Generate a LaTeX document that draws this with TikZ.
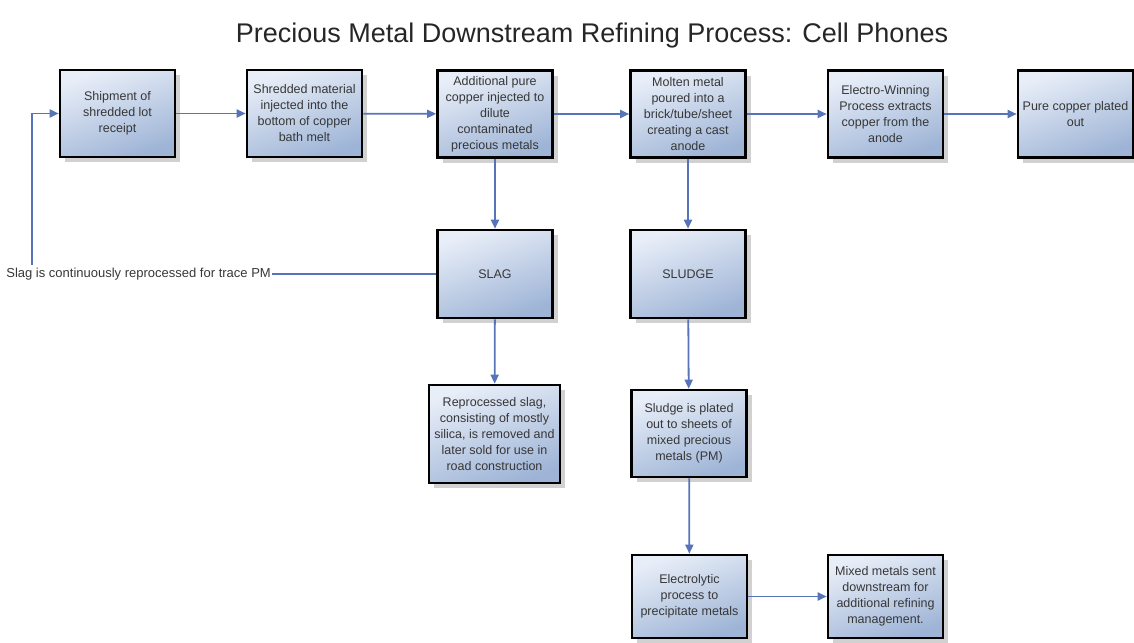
\documentclass[tikz,border=0pt]{standalone}
\usepackage{fontspec}
\setmainfont{Liberation Sans}
\usepackage{tikz}
\usetikzlibrary{arrows.meta, positioning, shadows}
\definecolor{flowblue}{RGB}{88, 116, 184}
\definecolor{boxtop}{RGB}{232, 238, 248}
\definecolor{boxbot}{RGB}{158, 180, 214}
\definecolor{textgray}{RGB}{55, 55, 55}
\tikzset{
    procbox/.style={
        rectangle,
        draw=black,
        line width=2.6pt,
        top color=boxtop,
        bottom color=boxbot,
        shading angle=20,
        drop shadow={fill=black!18, shadow xshift=5pt, shadow yshift=-5pt, opacity=1},
        minimum width=115pt,
        minimum height=87pt,
        align=center,
        text=textgray,
        font=\fontsize{12.5}{16}\selectfont
    },
    flow/.style={
        -{Triangle[length=9pt, width=8pt]},
        draw=flowblue,
        line width=1.8pt
    }
}
\begin{document}
\begin{tikzpicture}[x=1pt, y=-1pt]
    \useasboundingbox (0,0) rectangle (1134,642);
    \node[font=\fontsize{27}{30}\selectfont, text=black!85] (title) at (592,36) {Precious Metal Downstream Refining Process: Cell Phones};
    % top row
    \node[procbox] (ship)   at (117.5,113.5) {Shipment of\\shredded lot\\receipt};
    \node[procbox] (shred)  at (304.5,113.5) {Shredded material\\injected into the\\bottom of copper\\bath melt};
    \node[procbox] (addcu)  at (495,114)     {Additional pure\\copper injected to\\dilute\\contaminated\\precious metals};
    \node[procbox] (molten) at (688,114)     {Molten metal\\poured into a\\brick/tube/sheet\\creating a cast\\anode};
    \node[procbox] (ewin)   at (885.5,114)   {Electro-Winning\\Process extracts\\copper from the\\anode};
    \node[procbox] (pure)   at (1075.5,114)  {Pure copper plated\\out};
    % lower boxes
    \node[procbox, minimum height=88pt] (slag)   at (495,274) {SLAG};
    \node[procbox, minimum height=88pt] (sludge) at (688,274) {SLUDGE};
    \node[procbox, minimum width=131pt, minimum height=98pt] (reslag) at (494.5,434) {Reprocessed slag,\\consisting of mostly\\silica, is removed and\\later sold for use in\\road construction};
    \node[procbox] (platepm) at (689,433.5) {Sludge is plated\\out to sheets of\\mixed precious\\metals (PM)};
    \node[procbox, minimum height=83pt] (electro) at (689.5,596.5) {Electrolytic\\process to\\precipitate metals};
    \node[procbox, minimum height=83pt] (mixed)   at (885.5,596.5) {Mixed metals sent\\downstream for\\additional refining\\management.};
    % slag loop
    \node[anchor=east, inner sep=1pt, text=textgray, font=\fontsize{13}{15}\selectfont] (loop) at (272,274) {Slag is continuously reprocessed for trace PM};
    \coordinate (loopup) at (32,265);

    \draw[flow] (ship) -- (shred);
    \draw[flow] (shred) -- (addcu);
    \draw[flow] (addcu) -- (molten);
    \draw[flow] (molten) -- (ewin);
    \draw[flow] (ewin) -- (pure);
    \draw[flow] (addcu) -- (slag);
    \draw[flow] (molten) -- (sludge);
    \draw[flow] (slag) -- (reslag);
    \draw[flow] (sludge) -- (platepm);
    \draw[flow] (platepm) -- (electro);
    \draw[flow] (electro) -- (mixed);
    \draw[draw=flowblue, line width=1.8pt] (slag.west) -- (loop.east);
    \draw[flow] (loopup) |- (ship.west);
\end{tikzpicture}
\end{document}
